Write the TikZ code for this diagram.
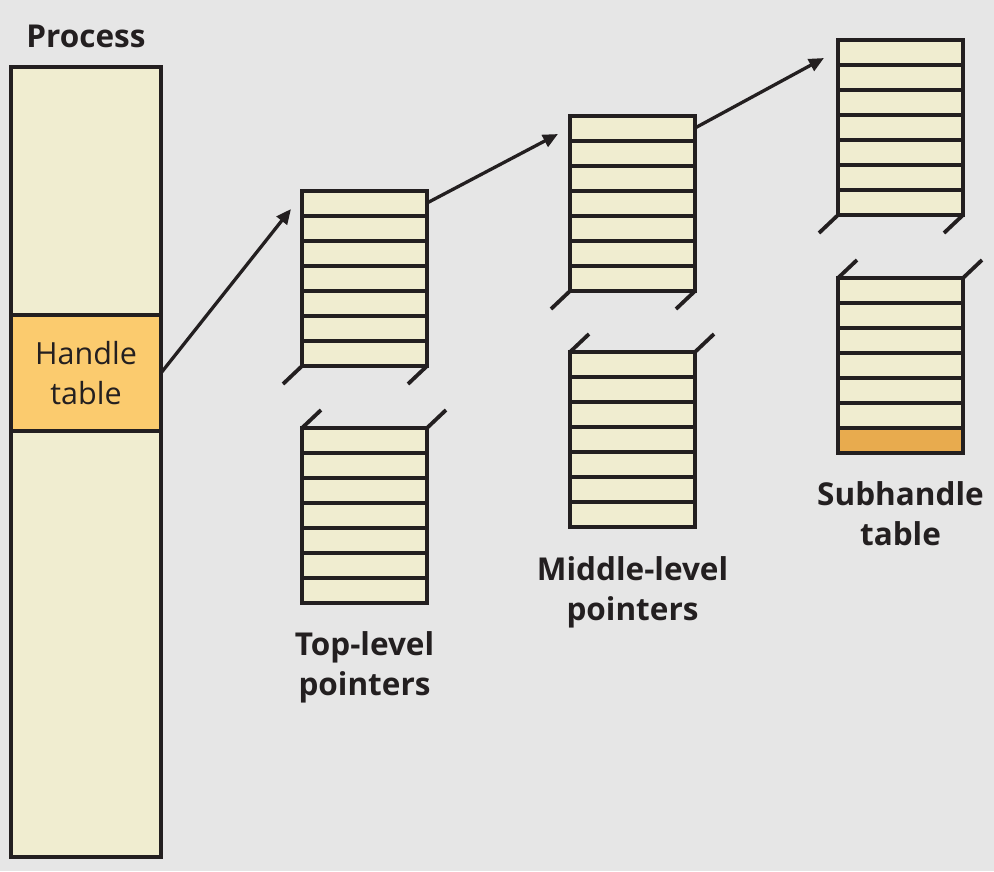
\documentclass[tikz,border=0pt]{standalone}
\usepackage{fontspec}
\setmainfont{Open Sans}
\usetikzlibrary{positioning,arrows.meta,calc}
\definecolor{PageGray}{HTML}{E6E6E6}
\definecolor{CellCream}{HTML}{F0EDD0}
\definecolor{HandleGold}{HTML}{FBCB6E}
\definecolor{SubOrange}{HTML}{E8AB4E}
\definecolor{InkBlack}{HTML}{231F20}
\tikzset{
  tablebox/.style={draw=InkBlack, line width=4pt, fill=CellCream, minimum width=125pt,
    minimum height=175pt, inner sep=0pt, outer sep=0pt},
  rowline/.style={draw=InkBlack, line width=3.8pt},
  breakmark/.style={draw=InkBlack, line width=3.8pt},
  ptr/.style={draw=InkBlack, line width=3.3pt, -{Triangle[length=15pt,width=13pt]}},
  caption/.style={font=\bfseries\fontsize{31.5}{40}\selectfont, text=InkBlack, align=center, inner sep=0pt},
}

\begin{document}
\begin{tikzpicture}[x=1pt, y=-1pt]
  \path[use as bounding box, fill=PageGray] (0,0) rectangle (994,871);

  % process with its handle table
  \node[draw=InkBlack, line width=4pt, fill=CellCream, minimum width=150pt, minimum height=790pt,
    inner sep=0pt, outer sep=0pt] (proc) at (86,462) {};
  \node[draw=InkBlack, line width=4pt, fill=HandleGold, minimum width=150pt, minimum height=116pt,
    inner sep=0pt, outer sep=0pt, align=center, text=InkBlack,
    font=\fontsize{30.5}{40}\selectfont] (handle) at (86,373) {Handle\\table};
  \node[caption, above=19pt of proc] (proctitle) {Process};

  % pointer tables, seven rows each
  \foreach \name/\x/\y in {top1/364.5/278.5, top2/364.5/515.5, mid1/632.5/203.5,
                          mid2/632.5/439.5, sub1/900.5/127.5, sub2/900.5/365.5} {
    \node[tablebox] (\name) at (\x,\y) {};
    \foreach \k in {1,...,6}
      \draw[rowline] ($(\name.north west)+(0,25*\k)$) -- ($(\name.north east)+(0,25*\k)$);
  }
  \fill[SubOrange] ($(sub2.south west)+(0,-25)$) rectangle (sub2.south east);
  \draw[InkBlack, line width=4pt] (sub2.north west) rectangle (sub2.south east);
  \draw[rowline] ($(sub2.south west)+(0,-25)$) -- ($(sub2.south east)+(0,-25)$);

  % break marks
  \foreach \name in {top1, mid1, sub1} {
    \draw[breakmark] (\name.south west) -- ++(-19,18);
    \draw[breakmark] (\name.south east) -- ++(-19,18);
  }
  \foreach \name in {top2, mid2, sub2} {
    \draw[breakmark] (\name.north west) -- ++(19,-18);
    \draw[breakmark] (\name.north east) -- ++(19,-18);
  }

  % pointers
  \coordinate (top1out) at ($(top1.north east)+(0,12)$);
  \coordinate (mid1out) at ($(mid1.north east)+(0,12)$);
  \coordinate (top1in) at ($(top1.north west)+(-11,18)$);
  \coordinate (mid1in) at ($(mid1.north west)+(-12,18)$);
  \coordinate (sub1in) at ($(sub1.north west)+(-14,18)$);
  \draw[ptr] (handle.east) -- (top1in);
  \draw[ptr] (top1out) -- (mid1in);
  \draw[ptr] (mid1out) -- (sub1in);

  \node[caption, below=28pt of top2] (toplabel) {Top-level\\pointers};
  \node[caption, below=29pt of mid2] (midlabel) {Middle-level\\pointers};
  \node[caption, below=28pt of sub2] (sublabel) {Subhandle\\table};
\end{tikzpicture}
\end{document}
